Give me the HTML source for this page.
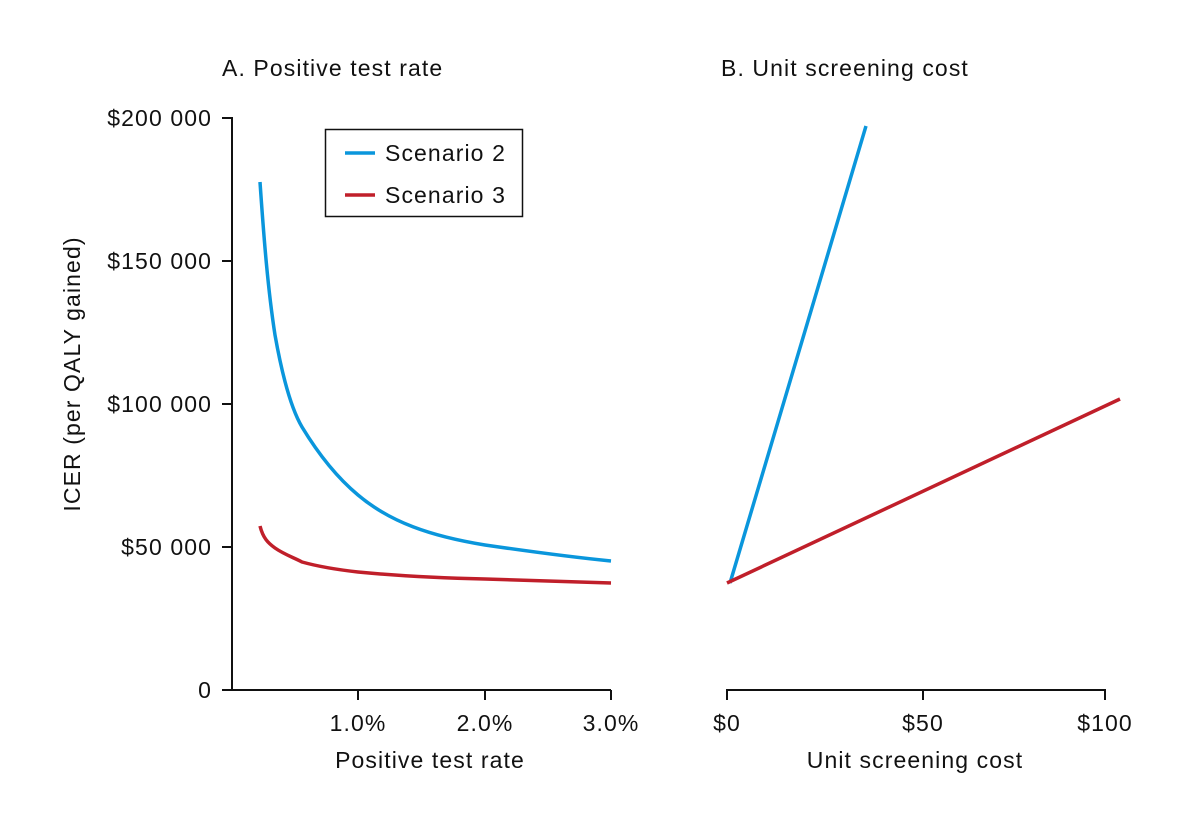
<!DOCTYPE html>
<html><head><style>
html,body{margin:0;padding:0;background:#fff;}
svg text{font-family:"Liberation Sans",sans-serif;fill:#111;}
</style></head><body>
<svg width="1200" height="812" viewBox="0 0 1200 812" xmlns="http://www.w3.org/2000/svg">
<g stroke="#111" stroke-width="2" fill="none">
<path d="M222 118H232V690H611"/>
<path d="M222 261H232M222 404H232M222 547H232M222 690H232"/>
<path d="M358 690V700M485 690V700M611 690V700"/>
<path d="M727 700V690H1105V700M923 690V700"/>
<rect x="325.5" y="129.5" width="197" height="87" stroke-width="1.5"/>
</g>
<g font-size="23" letter-spacing="1.1">
<text x="222" y="76">A. Positive test rate</text>
<text x="721" y="76">B. Unit screening cost</text>
<g text-anchor="end">
<text x="212" y="126">$200 000</text>
<text x="212" y="269">$150 000</text>
<text x="212" y="412">$100 000</text>
<text x="212" y="555">$50 000</text>
<text x="212" y="698">0</text>
</g>
<g text-anchor="middle">
<text x="358" y="731">1.0%</text>
<text x="485" y="731">2.0%</text>
<text x="611" y="731">3.0%</text>
<text x="727" y="731">$0</text>
<text x="923" y="731">$50</text>
<text x="1105" y="731">$100</text>
<text x="430" y="768">Positive test rate</text>
<text x="915" y="768">Unit screening cost</text>
<text transform="translate(80 374) rotate(-90)">ICER (per QALY gained)</text>
</g>
<text x="385" y="161">Scenario 2</text>
<text x="385" y="203">Scenario 3</text>
</g>
<g fill="none" stroke-width="3.5">
<path stroke="#0a96dc" d="M345 153H375"/>
<path stroke="#c01f2a" d="M345 195H375"/>
<path stroke="#0a96dc" d="M260 182C264 240 268 290 275 335C283 380 292 410 302 427C322 460 340 480 358 495C390 522 430 536 485 545C540 553 580 558 611 561"/>
<path stroke="#c01f2a" d="M260 526C263 538 268 543 275 548C285 555 295 558 302 562C320 567 340 570 358 572C400 576 440 578 485 579C540 581 580 582 611 583"/>
<path stroke="#0a96dc" d="M730 583L866 126"/>
<path stroke="#c01f2a" d="M727 583L1120 399"/>
</g>
</svg>
</body></html>
